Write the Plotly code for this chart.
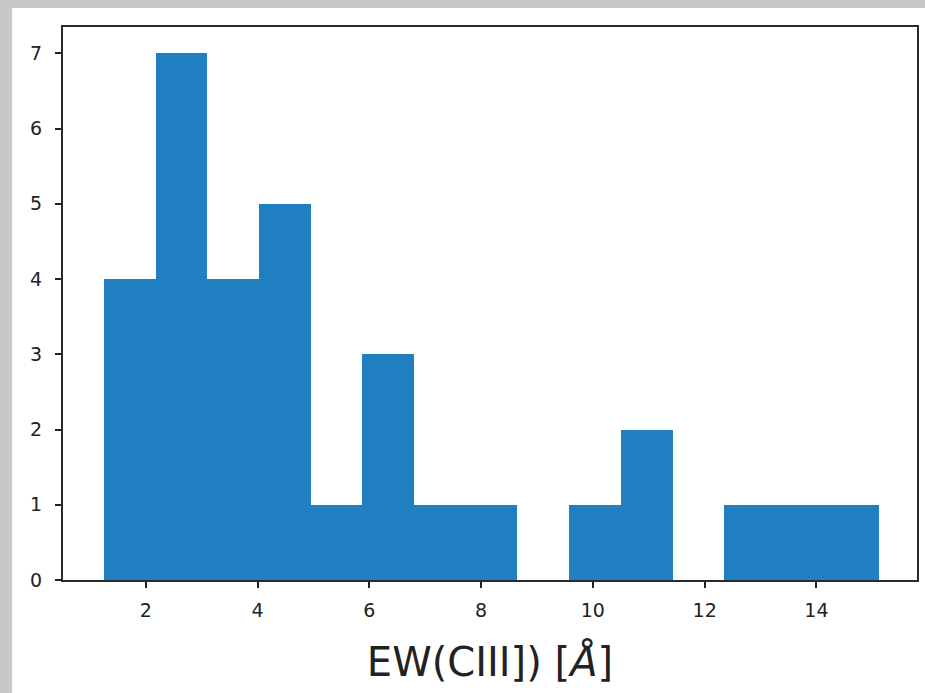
import plotly.graph_objects as go

# Histogram bin edges (EW in Angstrom) and counts per bin
bin_edges = [1.25, 2.175, 3.1, 4.025, 4.95, 5.875, 6.8, 7.725, 8.65,
             9.575, 10.5, 11.425, 12.35, 13.275, 14.2, 15.125]
counts = [4, 7, 4, 5, 1, 3, 1, 1, 0, 1, 2, 0, 1, 1, 1]
x_ticks = [2, 4, 6, 8, 10, 12, 14]
y_ticks = [0, 1, 2, 3, 4, 5, 6, 7]
x_label = "EW(CIII]) [<i>Å</i>]"

centers = [(a + b) / 2 for a, b in zip(bin_edges[:-1], bin_edges[1:])]
widths = [b - a for a, b in zip(bin_edges[:-1], bin_edges[1:])]

fig = go.Figure()
fig.add_trace(go.Bar(
    x=centers, y=counts, width=widths,
    marker=dict(color="#1f7fc0", line=dict(width=0)),
    hoverinfo="x+y",
))

L, R, T, B = 63, 6, 27, 113
W, H = 925, 693
pw, ph = W - L - R, H - T - B

def px2x(px):
    return (px - L) / pw

def py2y(py):
    return 1 - (py - T) / ph

# white card on grey surround
fig.add_shape(type="rect", xref="paper", yref="paper",
              x0=px2x(12), x1=px2x(930), y0=py2y(700), y1=py2y(8),
              fillcolor="white", line=dict(width=0), layer="below")

axis_common = dict(
    showline=True, mirror=True, linecolor="#2a2a2a", linewidth=2,
    ticks="outside", ticklen=6, tickwidth=1.5, tickcolor="#222",
    showgrid=False, zeroline=False,
    tickfont=dict(family="DejaVu Sans", size=19, color="#222"),
)

fig.update_layout(
    width=W, height=H,
    margin=dict(l=L, r=R, t=T, b=B),
    paper_bgcolor="#c8c8c8",
    plot_bgcolor="white",
    bargap=0,
    showlegend=False,
    xaxis=dict(range=[0.518, 15.80], tickvals=x_ticks, ticklabelstandoff=6,
               title=dict(text=x_label, standoff=28,
                          font=dict(family="DejaVu Sans", size=40, color="#222")),
               **axis_common),
    yaxis=dict(range=[0, 7.35], tickvals=y_ticks, ticklabelstandoff=9,
               **axis_common),
)

fig.write_html("out.html", config={"displayModeBar": False},
               post_script="document.body.style.margin='0';document.body.style.overflow='hidden';")
